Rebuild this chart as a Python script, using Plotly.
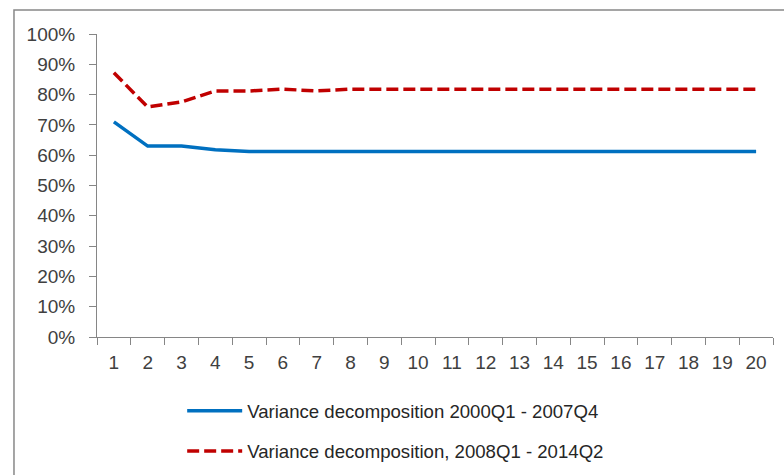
import plotly.graph_objects as go

periods = [str(i) for i in range(1, 21)]
pre_crisis = [0.71, 0.63, 0.63, 0.618, 0.612, 0.612, 0.612, 0.612, 0.612, 0.612,
              0.612, 0.612, 0.612, 0.612, 0.612, 0.612, 0.612, 0.612, 0.612, 0.612]
post_crisis = [0.872, 0.759, 0.776, 0.812, 0.812, 0.818, 0.812, 0.818, 0.818, 0.818,
               0.818, 0.818, 0.818, 0.818, 0.818, 0.818, 0.818, 0.818, 0.818, 0.818]
names = ["Variance decomposition 2000Q1 - 2007Q4",
         "Variance decomposition, 2008Q1 - 2014Q2"]
y_ticks = [i / 10 for i in range(0, 11)]

font_family = "Liberation Sans, Arial, sans-serif"
text_color = "#404040"

fig = go.Figure()
fig.add_trace(go.Scatter(x=periods, y=pre_crisis, mode="lines", name=names[0],
                         legendgroup="a",
                         line=dict(color="#0070C0", width=3.5)))
fig.add_trace(go.Scatter(x=periods, y=post_crisis, mode="lines", name=names[1],
                         legendgroup="b",
                         line=dict(color="#C00000", width=3.5, dash="12px,5px")))

fig.update_layout(
    width=784, height=475,
    margin=dict(l=97, r=11, t=34, b=138, autoexpand=False),
    paper_bgcolor="white", plot_bgcolor="white",
    font=dict(family=font_family, size=19, color=text_color),
    showlegend=True,
    legend=dict(x=0.126, y=-0.182, xanchor="left", yanchor="top",
                font=dict(size=18.6, color="#262626"),
                tracegroupgap=13, bgcolor="rgba(0,0,0,0)", itemwidth=55),
    xaxis=dict(type="category", tickson="boundaries", ticks="outside", ticklen=7,
               range=[-0.5, 19.5], automargin=False,
               tickcolor="#868686", showline=True, linecolor="#868686", linewidth=1,
               showgrid=False, zeroline=False, tickfont=dict(size=19),
               ticklabelstandoff=8),
    yaxis=dict(range=[0, 1], tickvals=y_ticks, tickformat=".0%", ticks="outside",
               ticklen=7, tickcolor="#868686", showline=True, linecolor="#868686",
               linewidth=1, showgrid=False, zeroline=False, ticklabelstandoff=10,
               automargin=False, tickfont=dict(size=19)),
    shapes=[dict(type="rect", xref="paper", yref="paper",
                 x0=-0.1228, x1=1.2, y0=-0.6, y1=1.079,
                 line=dict(color="#888888", width=1.5), fillcolor="rgba(0,0,0,0)",
                 layer="below")],
)

fig.write_html("out.html")
